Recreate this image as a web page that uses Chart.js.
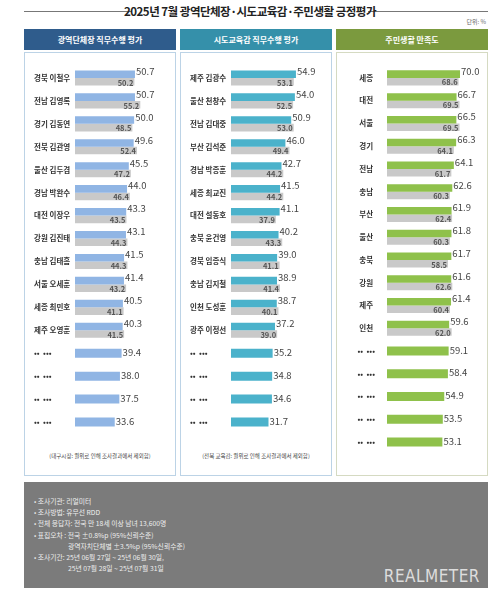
<!DOCTYPE html>
<html><head><meta charset="utf-8">
<script src="https://cdn.jsdelivr.net/npm/chart.js@4"></script>
<style>
body{margin:0;width:500px;height:605px;background:#fff;font-family:"Noto Sans CJK KR","Noto Sans",sans-serif;position:relative;overflow:hidden}
.abs{position:absolute}
.title{left:0;top:3px;width:500px;text-align:center;font-size:11.5px;font-weight:bold;color:#222;letter-spacing:-0.5px}
.line{top:11px;height:1px;background:#777}
.unit{right:14px;top:17px;font-size:6px;color:#666}
.head{top:29px;height:21px;color:#fff;font-size:8px;font-weight:bold;text-align:center;line-height:21px}
.panel{top:52px;height:424px;background:#fff;box-sizing:border-box}
.note{font-size:5.5px;color:#444;text-align:center;width:152px}
.foot{left:24px;top:482px;width:464px;height:106px;background:#7b7b7b;color:#eee;font-size:6.8px;line-height:11.2px}
.foot div{padding-left:10px}
</style></head><body>
<div class="abs line" style="left:24px;width:108px"></div>
<div class="abs line" style="left:368px;width:120px"></div>
<div class="abs title">2025년 7월 광역단체장·시도교육감·주민생활 긍정평가</div>
<div class="abs unit">단위: %</div>

<div class="abs head" style="left:24px;width:152px;background:#2f5c8c">광역단체장 직무수행 평가</div>
<div class="abs head" style="left:180px;width:152px;background:#3590aa">시도교육감 직무수행 평가</div>
<div class="abs head" style="left:336px;width:152px;background:#7b9a3e">주민생활 만족도</div>
<div class="abs panel" style="left:24px;width:152px;border:1px solid #bcd3e6"></div>
<div class="abs panel" style="left:180px;width:152px;border:1px solid #bcd3e6"></div>
<div class="abs panel" style="left:336px;width:152px;border:1px solid #d5dac2"></div>
<div class="abs" style="left:24px;top:58px;width:152px;height:384px"><canvas id="c1"></canvas></div>
<div class="abs" style="left:180px;top:58px;width:152px;height:384px"><canvas id="c2"></canvas></div>
<div class="abs" style="left:336px;top:58px;width:152px;height:404px"><canvas id="c3"></canvas></div>
<div class="abs note" style="left:24px;top:452px">(대구시장: 궐위로 인해 조사결과에서 제외함)</div>
<div class="abs note" style="left:180px;top:452px">(전북 교육감: 궐위로 인해 조사결과에서 제외함)</div>

<div class="abs foot">
<div style="margin-top:14px">• 조사기관: 리얼미터</div>
<div>• 조사방법: 유무선 RDD</div>
<div>• 전체 응답자: 전국 만 18세 이상 남녀 13,600명</div>
<div>• 표집오차 : 전국 ±0.8%p (95%신뢰수준)</div>
<div style="padding-left:44px">광역자치단체별 ±3.5%p (95%신뢰수준)</div>
<div>• 조사기간: 25년 06월 27일 ~ 25년 06월 30일,</div>
<div style="padding-left:44px">25년 07월 28일 ~ 25년 07월 31일</div>
<div class="abs" style="right:8px;bottom:6px;font-size:17px;color:#ddd;font-family:'DejaVu Sans Condensed',sans-serif;letter-spacing:0.5px;padding:0">REALMETER</div>
</div>

<script>
const DOTS = "••  •••";

const mayorNames = ["경북 이철우","전남 김영록","경기 김동연","전북 김관영","울산 김두겸","경남 박완수","대전 이장우","강원 김진태","충남 김태흠","서울 오세훈","세종 최민호","제주 오영훈",DOTS,DOTS,DOTS,DOTS];
const mayorJul = [50.7,50.7,50.0,49.6,45.5,44.0,43.3,43.1,41.5,41.4,40.5,40.3,39.4,38.0,37.5,33.6];
const mayorJun = [50.2,55.2,48.5,52.4,47.2,46.4,43.5,44.3,44.3,43.2,41.1,41.5,null,null,null,null];

const eduNames = ["제주 김광수","울산 천창수","전남 김대중","부산 김석준","경남 박종훈","세종 최교진","대전 설동호","충북 윤건영","경북 임종식","충남 김지철","인천 도성훈","광주 이정선",DOTS,DOTS,DOTS,DOTS];
const eduJul = [54.9,54.0,50.9,46.0,42.7,41.5,41.1,40.2,39.0,38.9,38.7,37.2,35.2,34.8,34.6,31.7];
const eduJun = [53.1,52.5,53.0,49.4,44.2,44.2,37.9,43.3,41.1,41.4,40.1,39.0,null,null,null,null];

const lifeNames = ["세종","대전","서울","경기","전남","충남","부산","울산","충북","강원","제주","인천",DOTS,DOTS,DOTS,DOTS,DOTS];
const lifeJul = [70.0,66.7,66.5,66.3,64.1,62.6,61.9,61.8,61.7,61.6,61.4,59.6,59.1,58.4,54.9,53.5,53.1];
const lifeJun = [68.6,69.5,69.5,64.1,61.7,60.3,62.4,60.3,58.5,62.6,60.4,62.0,null,null,null,null,null];

const FONT = '"Noto Sans CJK KR", "Noto Sans", sans-serif';

/* 막대 끝에 수치: 이번 달은 위쪽 바깥, 지난달은 회색 막대 안쪽 */
const valueLabels = {
  id: "valueLabels",
  afterDatasetsDraw(chart) {
    const ctx = chart.ctx;
    ctx.save();
    chart.data.datasets.forEach((ds, di) => {
      chart.getDatasetMeta(di).data.forEach((bar, i) => {
        const v = ds.data[i];
        if (v == null) return;
        const single = di === 0 && chart.data.datasets[1].data[i] == null;
        if (di === 0) {
          ctx.font = "9.5px " + FONT;
          ctx.fillStyle = "#444";
          ctx.textAlign = "left";
          ctx.textBaseline = "middle";
          ctx.fillText(v.toFixed(1), bar.x + 1, bar.y - (single ? 1 : 3));
        } else {
          ctx.font = "bold 7.5px " + FONT;
          ctx.fillStyle = "#555";
          ctx.textAlign = "right";
          ctx.textBaseline = "middle";
          ctx.fillText(v.toFixed(1), bar.x - 1, bar.y + 1);
        }
      });
    });
    ctx.restore();
  },
};

function panelChart(id, labels, cur, prev, color, max, align) {
  return new Chart(document.getElementById(id), {
    type: "bar",
    data: {
      labels,
      datasets: [
        { data: cur, backgroundColor: color, categoryPercentage: 0.66, barPercentage: 1, maxBarThickness: 9 },
        { data: prev, backgroundColor: "#c9c9c9", categoryPercentage: 0.66, barPercentage: 1 },
      ],
    },
    options: {
      indexAxis: "y",
      responsive: true,
      maintainAspectRatio: false,
      animation: false,
      skipNull: true,
      layout: { padding: { left: 10, right: 4 } },
      plugins: { legend: { display: false }, tooltip: { enabled: false } },
      scales: {
        x: { display: false, min: 0, max },
        y: {
          grid: { display: false },
          border: { display: false },
          afterFit: (s) => { s.width = 41; },
          ticks: { crossAlign: align, padding: 4, color: "#333", font: { size: 7.5, weight: "bold", family: FONT } },
        },
      },
    },
    plugins: [valueLabels],
  });
}

panelChart("c1", mayorNames, mayorJul, mayorJun, "#90b5e4", 82, "far");
panelChart("c2", eduNames, eduJul, eduJun, "#4bb2cb", 82, "far");
panelChart("c3", lifeNames, lifeJul, lifeJun, "#8fc14b", 93, "center");
</script>
</body></html>
